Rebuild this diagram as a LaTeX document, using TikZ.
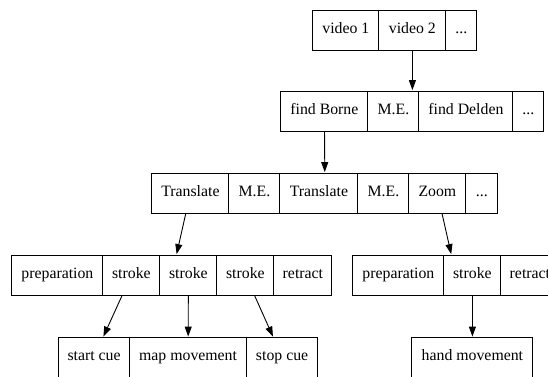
\documentclass[tikz,border=0pt]{standalone}
\usepackage{fontspec}
\setmainfont{Liberation Serif}
\usetikzlibrary{matrix,arrows.meta}
\tikzset{
  >={Triangle[length=10pt,width=7pt]},
  record/.style={matrix of nodes,inner sep=0pt,anchor=west,
    nodes={draw,minimum height=40pt,inner xsep=2pt,anchor=center,
      text height=11pt,text depth=3.5pt},
    column sep=-\pgflinewidth},
  cw/.style={minimum width=#1},
  link/.style={->,line width=0.9pt},
}

\begin{document}
\begin{tikzpicture}[x=1pt,y=-1pt,line width=0.9pt,
    every node/.style={font=\fontsize{15.8}{19}\selectfont}]
  \useasboundingbox (0,0) rectangle (548,376);
  \clip (0,0) rectangle (548,376);
  % records, one per level
  \matrix[record] (vids) at (312,30) {
    |[cw=66pt]| video 1 & |[cw=67pt]| video 2 & |[cw=31pt]| ... \\
  };
  \matrix[record] (finds) at (280,111) {
    |[cw=87pt]| find Borne & |[cw=51pt]| M.E. & |[cw=94pt]| find Delden & |[cw=31pt]| ... \\
  };
  \matrix[record] (moves) at (151,193) {
    |[cw=77pt]| Translate & |[cw=51pt]| M.E. & |[cw=78pt]| Translate &
    |[cw=51pt]| M.E. & |[cw=57pt]| Zoom & |[cw=32pt]| ... \\
  };
  \matrix[record] (phL) at (11,275) {
    |[cw=91pt]| preparation & |[cw=57pt]| stroke & |[cw=57pt]| stroke &
    |[cw=57pt]| stroke & |[cw=58pt]| retract \\
  };
  \matrix[record] (phR) at (352,275) {
    |[cw=91pt]| preparation & |[cw=57pt]| stroke & |[cw=58pt]| retract \\
  };
  \matrix[record] (cueL) at (57.7,357) {
    |[cw=71pt]| start cue & |[cw=117pt]| map movement & |[cw=71pt]| stop cue \\
  };
  \matrix[record] (cueR) at (411,357) {
    |[cw=121pt]| hand movement \\
  };
  % links
  \draw[link] (vids-1-2) -- (finds);
  \draw[link] (finds-1-1) -- (moves);
  \draw[link] (moves-1-1) -- (phL);
  \draw[link] (moves-1-5) -- (phR);
  \draw[link] (phL-1-2) -- (cueL-1-1);
  \draw[link] (phL-1-3) -- (cueL-1-2);
  \draw[link] (phL-1-4) -- (cueL-1-3);
  \draw[link] (phR-1-2) -- (cueR-1-1);
\end{tikzpicture}
\end{document}
